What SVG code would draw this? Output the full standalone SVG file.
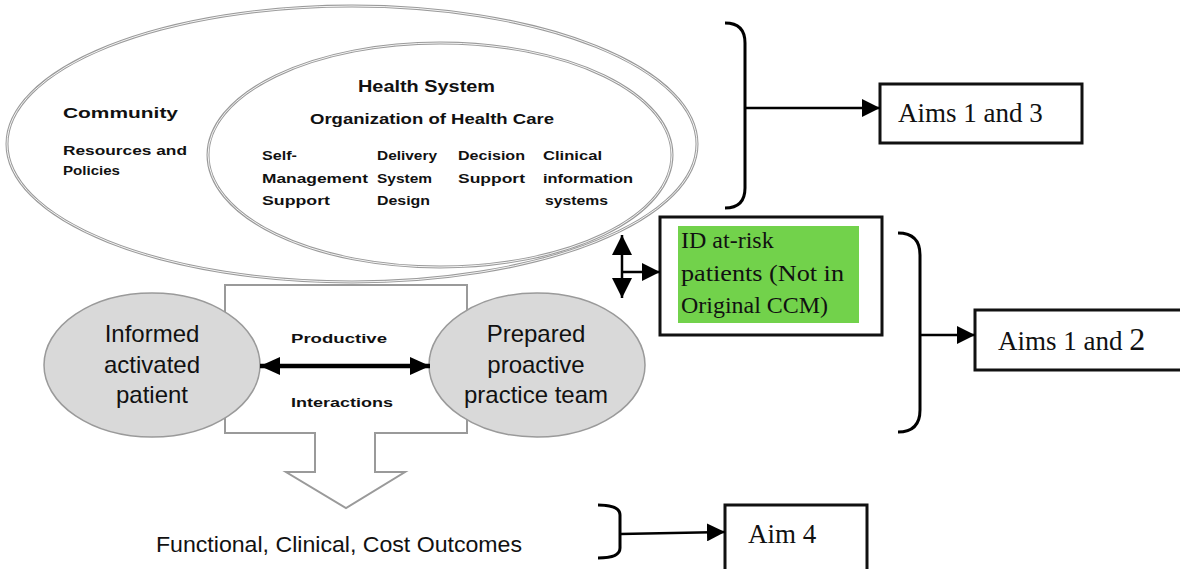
<svg xmlns="http://www.w3.org/2000/svg" width="1180" height="569" viewBox="0 0 1180 569">
<defs>
<marker id="ah" viewBox="0 0 18 18" refX="18" refY="9" markerWidth="18" markerHeight="18" markerUnits="userSpaceOnUse" orient="auto-start-reverse">
<path d="M0,0 L18,9 L0,18 z" fill="#000"/>
</marker>
<marker id="ahv" viewBox="0 0 20 20" refX="20" refY="10" markerWidth="20" markerHeight="20" markerUnits="userSpaceOnUse" orient="auto-start-reverse">
<path d="M0,0 L20,10 L0,20 z" fill="#000"/>
</marker>
<marker id="ah2" viewBox="0 0 20 18" refX="20" refY="9" markerWidth="20" markerHeight="18" markerUnits="userSpaceOnUse" orient="auto-start-reverse">
<path d="M0,0 L20,9 L0,18 z" fill="#000"/>
</marker>
<style>
.ring{fill:none;stroke:#9a9a9a;stroke-width:3}
.ringw{fill:none;stroke:#fff;stroke-width:0.9}
.px{font-family:"Liberation Sans",Arial,sans-serif;font-weight:bold;fill:#111}
.sans{font-family:"Liberation Sans",Arial,sans-serif;fill:#111}
.serif{font-family:"Liberation Serif","Times New Roman",serif;fill:#111}
.box{fill:#fff;stroke:#111;stroke-width:3}
.line{fill:none;stroke:#000;stroke-width:2.5}
.brace{fill:none;stroke:#000;stroke-width:3}
.gell{fill:#d9d9d9;stroke:#9a9a9a;stroke-width:1.5}
</style>
</defs>
<rect width="1180" height="569" fill="#fff"/>

<g id="productive-arrow-shape">
<path d="M225,285 L467,285 L467,433 L375,433 L375,472 L405,472 L346,508 L286,472 L315,472 L315,433 L225,433 Z" fill="#fff" stroke="#9a9a9a" stroke-width="2"/>
</g>

<g id="community">
<ellipse class="ring" cx="352" cy="144" rx="345" ry="138"/>
<ellipse class="ringw" cx="352" cy="144" rx="345" ry="138"/>
<text class="px" x="63" y="118" font-size="15" textLength="115" lengthAdjust="spacingAndGlyphs">Community</text>
<text class="px" x="63" y="155" font-size="13" textLength="124" lengthAdjust="spacingAndGlyphs">Resources and</text>
<text class="px" x="63" y="175" font-size="13" textLength="57" lengthAdjust="spacingAndGlyphs">Policies</text>
</g>

<g id="health-system">
<ellipse class="ring" cx="440" cy="155" rx="232" ry="112"/>
<ellipse class="ringw" cx="440" cy="155" rx="232" ry="112"/>
<text class="px" x="358" y="92" font-size="16" textLength="137" lengthAdjust="spacingAndGlyphs">Health System</text>
<text class="px" x="310" y="124" font-size="15" textLength="244" lengthAdjust="spacingAndGlyphs">Organization of Health Care</text>
<text class="px" x="262" y="160" font-size="13" textLength="35" lengthAdjust="spacingAndGlyphs">Self-</text>
<text class="px" x="262" y="183" font-size="13" textLength="106" lengthAdjust="spacingAndGlyphs">Management</text>
<text class="px" x="262" y="205" font-size="13" textLength="68" lengthAdjust="spacingAndGlyphs">Support</text>
<text class="px" x="377" y="160" font-size="13" textLength="60" lengthAdjust="spacingAndGlyphs">Delivery</text>
<text class="px" x="377" y="183" font-size="13" textLength="55" lengthAdjust="spacingAndGlyphs">System</text>
<text class="px" x="377" y="205" font-size="13" textLength="53" lengthAdjust="spacingAndGlyphs">Design</text>
<text class="px" x="458" y="160" font-size="13" textLength="67" lengthAdjust="spacingAndGlyphs">Decision</text>
<text class="px" x="458" y="183" font-size="13" textLength="67" lengthAdjust="spacingAndGlyphs">Support</text>
<text class="px" x="543" y="160" font-size="13" textLength="59" lengthAdjust="spacingAndGlyphs">Clinical</text>
<text class="px" x="543" y="183" font-size="13" textLength="90" lengthAdjust="spacingAndGlyphs">information</text>
<text class="px" x="545" y="205" font-size="13" textLength="63" lengthAdjust="spacingAndGlyphs">systems</text>
</g>

<g id="patient">
<ellipse class="gell" cx="152" cy="365" rx="108" ry="72"/>
<text class="sans" x="152" y="342" font-size="24" text-anchor="middle">Informed</text>
<text class="sans" x="152" y="373" font-size="24" text-anchor="middle">activated</text>
<text class="sans" x="152" y="403" font-size="24" text-anchor="middle">patient</text>
</g>

<g id="team">
<ellipse class="gell" cx="537" cy="365" rx="108" ry="72"/>
<text class="sans" x="536" y="342" font-size="24" text-anchor="middle">Prepared</text>
<text class="sans" x="536" y="373" font-size="24" text-anchor="middle">proactive</text>
<text class="sans" x="536" y="403" font-size="24" text-anchor="middle">practice team</text>
</g>

<g id="interaction-labels">
<text class="px" x="291" y="343" font-size="13" textLength="96" lengthAdjust="spacingAndGlyphs">Productive</text>
<text class="px" x="291" y="407" font-size="13" textLength="102" lengthAdjust="spacingAndGlyphs">Interactions</text>
</g>

<g id="outcomes">
<text class="sans" x="156" y="552" font-size="22" textLength="366" lengthAdjust="spacingAndGlyphs">Functional, Clinical, Cost Outcomes</text>
</g>

<g id="id-at-risk">
<rect class="box" x="660" y="217" width="222" height="118"/>
<rect x="678" y="226" width="181" height="97" fill="#72d24b"/>
<text class="serif" x="681" y="248" font-size="24">ID at-risk</text>
<text class="serif" x="681" y="281" font-size="24" textLength="163" lengthAdjust="spacingAndGlyphs">patients (Not in</text>
<text class="serif" x="681" y="313" font-size="24" textLength="147" lengthAdjust="spacingAndGlyphs">Original CCM)</text>
</g>

<g id="aims-1-3">
<rect class="box" x="880" y="84" width="202" height="59"/>
<text class="serif" x="898" y="122" font-size="27">Aims 1 and 3</text>
</g>

<g id="aims-1-2">
<rect class="box" x="975" y="310" width="215" height="60"/>
<text class="serif" x="998" y="350" font-size="27">Aims 1 and <tspan font-size="32">2</tspan></text>
</g>

<g id="aim-4">
<rect class="box" x="725" y="505" width="142" height="70"/>
<text class="serif" x="748" y="543" font-size="27">Aim 4</text>
</g>

<g id="connectors">
<line x1="260" y1="366" x2="430" y2="366" stroke="#000" stroke-width="4.5" marker-start="url(#ah2)" marker-end="url(#ah2)"/>
<line x1="622" y1="235" x2="622" y2="298" class="line" marker-start="url(#ahv)" marker-end="url(#ahv)"/>
<line x1="622" y1="272" x2="660" y2="272" class="line" marker-end="url(#ah)"/>
<path class="brace" d="M725,23 Q745,23 745,43 L745,188 Q745,208 725,208"/>
<line x1="745" y1="108" x2="880" y2="108" class="line" marker-end="url(#ah)"/>
<path class="brace" d="M898,233 Q920,233 920,255 L920,410 Q920,432 898,432"/>
<line x1="920" y1="335" x2="975" y2="335" class="line" marker-end="url(#ah)"/>
<path class="brace" d="M598,505 Q620,505 620,515 L620,548 Q620,558 598,558"/>
<line x1="620" y1="534" x2="725" y2="532" class="line" marker-end="url(#ah)"/>
</g>
</svg>
